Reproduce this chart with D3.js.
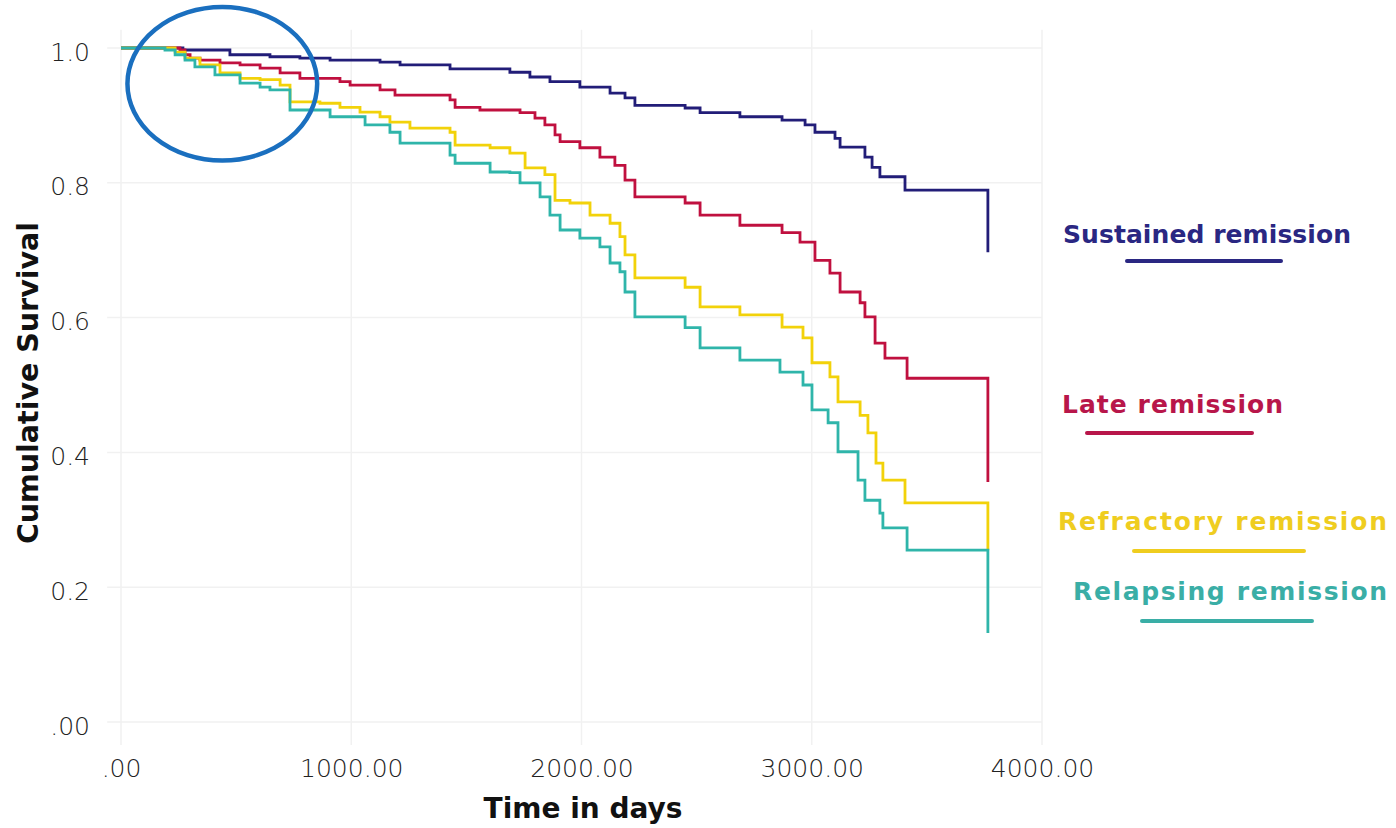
<!DOCTYPE html>
<html>
<head>
<meta charset="utf-8">
<script src="https://cdn.jsdelivr.net/npm/d3@7"></script>
<style>
  html, body { margin: 0; padding: 0; background: #ffffff; }
  svg { display: block; }
  text { font-family: "DejaVu Sans", sans-serif; }
</style>
</head>
<body>
<svg id="chart" width="1396" height="828"></svg>
<script>
// ---- Data ----
const xTicks = [0, 1000, 2000, 3000, 4000];
const xTickLabels = [".00", "1000.00", "2000.00", "3000.00", "4000.00"];
const yTicks = [0, 0.2, 0.4, 0.6, 0.8, 1.0];
const yTickLabels = [".00", "0.2", "0.4", "0.6", "0.8", "1.0"];

const seriesNames = ["Sustained remission", "Late remission", "Refractory remission", "Relapsing remission"];
const seriesColors = ["#221d78", "#c0103f", "#f2d20a", "#2fb5aa"];
const labelColors = ["#2a2782", "#b8164a", "#efcd1f", "#3aaea6"];

const sustainedTimes = [0, 269, 473, 647, 777, 908, 1125, 1212, 1429, 1689, 1776, 1863, 1993, 2124, 2189, 2232, 2450, 2515, 2688, 2871, 2971, 3014, 3101, 3123, 3231, 3262, 3296, 3405, 3765];
const sustainedSurvival = [1.0, 0.997, 0.990, 0.987, 0.985, 0.982, 0.979, 0.975, 0.969, 0.964, 0.957, 0.950, 0.942, 0.933, 0.926, 0.915, 0.911, 0.904, 0.898, 0.893, 0.886, 0.875, 0.866, 0.853, 0.838, 0.823, 0.809, 0.789, 0.697];

const lateTimes = [0, 256, 278, 300, 343, 430, 517, 604, 691, 777, 951, 995, 1125, 1190, 1429, 1451, 1559, 1733, 1798, 1841, 1885, 1907, 1993, 2080, 2145, 2189, 2232, 2450, 2515, 2688, 2871, 2949, 3014, 3079, 3123, 3210, 3231, 3275, 3318, 3414, 3765];
const lateSurvival = [1.0, 0.997, 0.990, 0.985, 0.982, 0.978, 0.975, 0.970, 0.963, 0.955, 0.950, 0.945, 0.938, 0.930, 0.923, 0.912, 0.908, 0.904, 0.896, 0.886, 0.871, 0.861, 0.852, 0.838, 0.826, 0.804, 0.779, 0.770, 0.752, 0.737, 0.726, 0.712, 0.685, 0.666, 0.638, 0.622, 0.601, 0.562, 0.540, 0.510, 0.356];

const refractoryTimes = [0, 235, 278, 343, 430, 517, 604, 691, 734, 864, 951, 1038, 1125, 1168, 1255, 1429, 1451, 1603, 1689, 1755, 1841, 1885, 1950, 2037, 2124, 2167, 2189, 2232, 2450, 2515, 2688, 2871, 2962, 3001, 3079, 3114, 3210, 3244, 3279, 3309, 3405, 3765];
const refractorySurvival = [1.0, 0.994, 0.985, 0.975, 0.963, 0.955, 0.953, 0.945, 0.920, 0.918, 0.912, 0.905, 0.898, 0.890, 0.881, 0.875, 0.856, 0.852, 0.844, 0.822, 0.812, 0.774, 0.770, 0.752, 0.740, 0.720, 0.693, 0.659, 0.645, 0.616, 0.604, 0.586, 0.570, 0.533, 0.512, 0.475, 0.455, 0.429, 0.384, 0.359, 0.325, 0.255];

const relapsingTimes = [0, 191, 235, 278, 321, 408, 517, 604, 647, 734, 908, 1060, 1168, 1212, 1429, 1451, 1603, 1689, 1733, 1820, 1863, 1907, 1993, 2080, 2124, 2167, 2189, 2232, 2450, 2515, 2688, 2862, 2962, 3001, 3071, 3114, 3201, 3231, 3296, 3309, 3414, 3765];
const relapsingSurvival = [1.0, 0.997, 0.990, 0.982, 0.972, 0.960, 0.948, 0.942, 0.938, 0.908, 0.898, 0.886, 0.875, 0.859, 0.841, 0.829, 0.816, 0.815, 0.800, 0.779, 0.752, 0.730, 0.718, 0.705, 0.681, 0.668, 0.638, 0.601, 0.585, 0.555, 0.537, 0.519, 0.500, 0.463, 0.444, 0.401, 0.359, 0.329, 0.310, 0.288, 0.255, 0.132];

// ---- Build series table from the arrays ----
const allTimes = [sustainedTimes, lateTimes, refractoryTimes, relapsingTimes];
const allSurv = [sustainedSurvival, lateSurvival, refractorySurvival, relapsingSurvival];
const series = seriesNames.map((name, i) => ({
  name, color: seriesColors[i], labelColor: labelColors[i],
  points: allTimes[i].map((t, j) => [t, allSurv[i][j]])
}));

// ---- Layout ----
const svg = d3.select("#chart");
const x = d3.scaleLinear().domain([0, 4000]).range([121, 1042]);
const y = d3.scaleLinear().domain([0, 1]).range([722, 48]);

// Gridlines
const grid = svg.append("g").attr("class", "grid");
grid.selectAll("line.h").data(yTicks).join("line")
  .attr("class", "h")
  .attr("x1", x(-60)).attr("x2", x(4000))
  .attr("y1", d => y(d)).attr("y2", d => y(d))
  .attr("stroke", "#f1f1f1").attr("stroke-width", 1.5);
grid.selectAll("line.v").data(xTicks).join("line")
  .attr("class", "v")
  .attr("x1", d => x(d)).attr("x2", d => x(d))
  .attr("y1", y(1.027)).attr("y2", y(-0.034))
  .attr("stroke", "#f1f1f1").attr("stroke-width", 1.5);

// Axes (labels only, no domain lines)
const xAxis = d3.axisBottom(x).tickValues(xTicks)
  .tickFormat((d, i) => xTickLabels[i]).tickSize(0).tickPadding(0);
const gx = svg.append("g").attr("transform", `translate(0, 759)`).call(xAxis);
gx.select(".domain").remove();
gx.selectAll("text")
  .attr("dy", "0.71em")
  .style("font-family", "'DejaVu Sans', sans-serif")
  .style("font-weight", "200")
  .style("font-size", "25px")
  .attr("fill", "#222");

const yAxis = d3.axisLeft(y).tickValues(yTicks)
  .tickFormat((d, i) => yTickLabels[i]).tickSize(0).tickPadding(0);
const gy = svg.append("g").attr("transform", `translate(90, 4)`).call(yAxis);
gy.select(".domain").remove();
gy.selectAll("text")
  .style("font-family", "'DejaVu Sans', sans-serif")
  .style("font-weight", "200")
  .style("font-size", "25px")
  .attr("fill", "#222");

// Axis titles
svg.append("text")
  .attr("x", 583).attr("y", 818)
  .attr("text-anchor", "middle")
  .style("font-weight", "700").style("font-size", "28px")
  .attr("fill", "#111")
  .text("Time in days");

svg.append("text")
  .attr("transform", "translate(38, 383) rotate(-90)")
  .attr("text-anchor", "middle")
  .style("font-weight", "700").style("font-size", "28.5px")
  .attr("fill", "#111")
  .text("Cumulative Survival");

// Curves
const line = d3.line()
  .x(d => x(d[0])).y(d => y(d[1]))
  .curve(d3.curveStepAfter);

svg.append("g").selectAll("path").data(series).join("path")
  .attr("d", d => line(d.points))
  .attr("fill", "none")
  .attr("stroke", d => d.color)
  .attr("stroke-width", 2.8)
  .attr("stroke-linejoin", "miter");

// Legend labels with underline
const legendText = [
  { tx: 1063, ty: 243, w: 288, lx1: 1127, lx2: 1281, ly: 261 },
  { tx: 1062, ty: 413, w: 221, lx1: 1087, lx2: 1252, ly: 433 },
  { tx: 1058, ty: 530, w: 329, lx1: 1134, lx2: 1304, ly: 551 },
  { tx: 1073, ty: 600, w: 314, lx1: 1142, lx2: 1312, ly: 621 }
];
const leg = svg.append("g");
series.forEach((s, i) => {
  const p = legendText[i];
  leg.append("text")
    .attr("x", p.tx).attr("y", p.ty)
    .attr("textLength", p.w).attr("lengthAdjust", "spacing")
    .style("font-weight", "700").style("font-size", "25px")
    .attr("fill", s.labelColor)
    .text(s.name);
  leg.append("line")
    .attr("x1", p.lx1).attr("x2", p.lx2)
    .attr("y1", p.ly).attr("y2", p.ly)
    .attr("stroke", s.labelColor).attr("stroke-width", 4)
    .attr("stroke-linecap", "round");
});

// Highlight ellipse annotation around early divergence
svg.append("ellipse")
  .attr("cx", x(440)).attr("cy", y(0.947))
  .attr("rx", x(412) - x(0)).attr("ry", y(0.886) - y(1))
  .attr("fill", "none")
  .attr("stroke", "#1a6fbf")
  .attr("stroke-width", 4.5);
</script>
</body>
</html>
